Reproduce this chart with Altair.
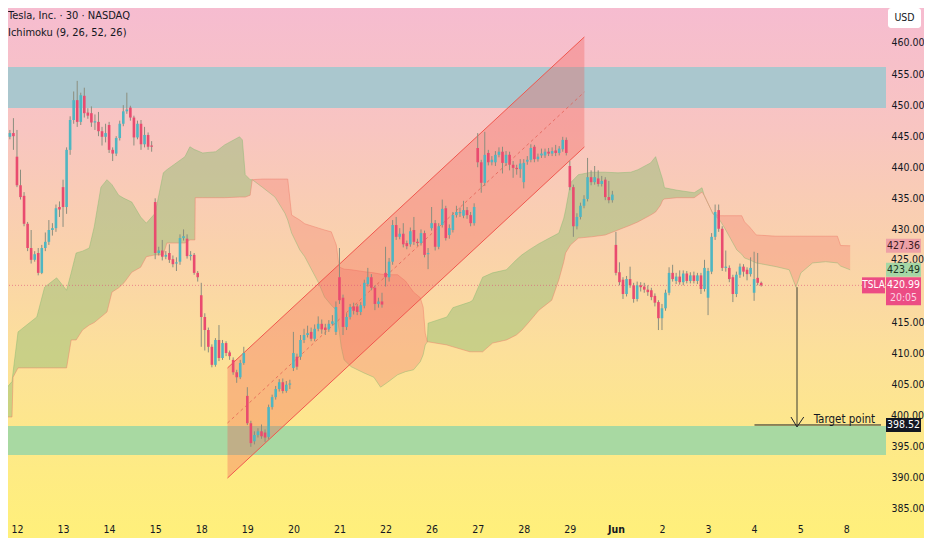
import numpy as np
import pandas as pd
import altair as alt

W, H = 878, 508
FONT = "Liberation Sans Narrow, DejaVu Sans Condensed, Roboto Condensed, Roboto, sans-serif"
INK = "#131722"
UP, DOWN, WICK = "#4FB6C2", "#E94B6F", "#8B8E7E"

# trading days on the time axis, 13 half-hour bars per day
day_labels = ["12", "13", "14", "15", "18", "19", "20", "21", "22", "26",
              "27", "28", "29", "Jun", "2", "3", "4", "5", "8"]

# 30 min candles: 3 bars of the previous session, 16 full days, 3 bars of the last day
opens = [
    447.1, 444.9, 445.5,
    441.7, 437.1, 435.4, 430.9, 427.0, 425.1, 426.2, 423.0, 427.0, 428.0, 429.9, 430.2, 433.6,
    436.8, 433.6, 442.8, 447.6, 450.8, 447.3, 451.5, 448.8, 448.7, 447.2, 447.3, 445.8, 444.9,
    446.8, 442.8, 442.2, 444.7, 447.0, 449.0, 449.6, 448.0, 444.8, 447.0, 443.7, 445.2, 443.5,
    434.4, 426.2, 426.6, 425.6, 426.2, 425.2, 424.5, 424.8, 428.6, 428.5, 425.7, 425.9, 423.0,
    419.4, 415.9, 413.8, 411.1, 408.2, 412.2, 409.3, 411.7, 410.2, 409.0, 407.0, 406.2, 408.5,
    403.2, 398.8, 395.9, 396.9, 397.5, 397.3, 396.6, 401.4, 403.0, 404.3, 405.4, 404.0, 405.0,
    407.7, 409.5, 409.5, 412.2, 413.0, 413.5, 412.4, 414.0, 414.8, 414.2, 413.9, 414.8, 413.5,
    422.3, 419.0, 414.3, 415.9, 417.6, 417.6, 416.7, 417.7, 421.2, 422.3, 420.6, 418.0, 418.4,
    423.0, 422.3, 424.8, 430.7, 428.8, 429.3, 427.8, 427.6, 429.9, 428.0, 427.8, 429.4, 426.0,
    430.2, 431.0, 427.2, 430.7, 433.4, 429.1, 429.9, 432.3, 432.6, 432.2, 433.1, 432.3, 431.0,
    443.1, 440.8, 437.5, 442.3, 440.8, 440.8, 442.0, 442.5, 440.7, 442.0, 440.4, 439.9, 439.7,
    437.6, 440.9, 441.2, 443.3, 441.3, 441.9, 441.9, 442.5, 442.2, 442.7, 442.3, 442.9, 444.4,
    440.2, 436.8, 430.5, 432.0, 433.8, 434.9, 438.4, 437.6, 438.2, 437.3, 438.0, 435.2, 434.7,
    427.5, 423.1, 421.9, 419.6, 422.0, 421.0, 418.8, 421.0, 420.8, 420.3, 420.2, 419.3, 418.3,
    415.7, 417.3, 419.8, 423.0, 421.7, 422.4, 421.5, 422.9, 421.7, 422.6, 421.7, 422.6, 420.4,
    419.0, 423.2, 428.8, 433.1, 430.1, 423.8, 423.8, 422.3, 419.6, 422.7, 424.0, 423.5, 422.8,
    419.8, 422.2, 421.4,
]
highs = [
    447.9, 446.0, 447.9,
    446.0, 439.6, 436.0, 431.2, 429.9, 426.5, 427.0, 427.5, 429.5, 431.5, 431.0, 434.0, 434.5,
    438.0, 443.2, 448.2, 452.2, 453.9, 452.0, 452.8, 449.5, 449.8, 448.5, 448.9, 446.5, 447.0,
    447.3, 443.2, 445.0, 447.5, 450.0, 452.0, 449.9, 448.3, 447.5, 447.6, 446.5, 445.6, 444.2,
    435.0, 427.2, 428.3, 426.5, 427.6, 425.8, 425.5, 429.2, 430.0, 429.2, 426.5, 426.2, 423.3,
    421.4, 416.5, 414.2, 411.5, 412.5, 414.6, 412.2, 412.0, 410.5, 409.4, 407.4, 409.0, 411.1,
    404.6, 399.2, 397.5, 398.0, 398.6, 397.8, 401.8, 403.4, 404.8, 405.9, 406.0, 405.6, 405.8,
    413.5, 410.0, 413.0, 414.0, 414.5, 414.2, 414.7, 416.0, 415.5, 414.8, 415.4, 416.2, 418.4,
    427.0, 419.5, 416.5, 418.0, 418.2, 418.0, 418.3, 421.9, 423.8, 422.8, 421.0, 419.0, 419.8,
    427.2, 425.4, 431.5, 432.0, 430.2, 431.0, 428.2, 430.3, 432.0, 428.5, 430.0, 429.8, 427.0,
    433.6, 431.5, 431.0, 434.8, 433.8, 430.8, 432.8, 433.8, 433.5, 434.6, 433.6, 432.8, 434.2,
    445.5, 441.2, 445.7, 442.8, 441.8, 442.6, 443.2, 443.3, 442.6, 442.5, 441.0, 440.4, 441.3,
    441.3, 441.8, 443.7, 443.6, 442.2, 443.0, 443.0, 443.1, 443.2, 443.6, 443.4, 444.9, 444.8,
    441.0, 437.2, 432.6, 434.3, 435.5, 441.5, 439.5, 440.2, 439.5, 438.6, 438.4, 437.8, 436.2,
    429.6, 424.7, 422.3, 422.5, 424.0, 421.4, 421.6, 421.5, 421.4, 421.0, 420.6, 419.7, 418.6,
    418.0, 420.3, 423.9, 424.3, 423.0, 423.4, 423.4, 423.3, 423.1, 423.2, 423.0, 423.0, 425.1,
    423.8, 429.4, 434.0, 434.0, 430.5, 426.6, 424.2, 422.7, 423.2, 424.5, 424.4, 423.9, 425.5,
    426.4, 426.2, 421.6,
]
lows = [
    443.5, 444.5, 442.8,
    436.8, 434.8, 430.5, 426.5, 424.5, 424.8, 422.6, 422.8, 426.5, 427.5, 429.0, 429.6, 432.0,
    430.4, 432.5, 442.0, 447.0, 446.5, 446.8, 448.0, 447.8, 446.5, 446.0, 445.0, 443.5, 444.0,
    442.3, 441.0, 441.8, 444.3, 446.6, 448.6, 447.5, 443.5, 444.5, 442.8, 443.2, 442.8, 442.5,
    425.2, 425.8, 425.0, 425.2, 424.6, 423.9, 423.3, 424.3, 428.2, 425.3, 425.0, 422.7, 421.6,
    411.1, 410.5, 410.2, 407.8, 407.9, 408.8, 409.0, 409.6, 409.0, 406.6, 405.3, 405.9, 408.2,
    398.5, 395.0, 395.4, 396.5, 396.3, 395.8, 396.2, 401.0, 402.6, 403.9, 403.6, 403.7, 404.3,
    407.2, 407.4, 409.0, 411.7, 412.6, 412.0, 412.0, 413.6, 413.2, 413.0, 413.5, 414.5, 413.0,
    418.0, 413.0, 413.8, 415.5, 416.3, 416.2, 416.2, 417.3, 420.8, 420.2, 417.0, 417.4, 417.4,
    420.8, 421.6, 424.3, 428.3, 428.4, 427.1, 426.8, 427.2, 427.5, 427.3, 427.4, 425.5, 423.6,
    429.8, 426.6, 426.8, 430.3, 428.2, 428.5, 429.5, 431.9, 432.0, 431.8, 431.7, 430.5, 430.6,
    440.0, 435.9, 437.0, 440.3, 440.3, 440.2, 441.6, 439.0, 440.2, 439.5, 438.3, 438.8, 438.3,
    436.6, 440.4, 440.8, 440.8, 440.9, 441.5, 441.5, 441.8, 441.8, 441.8, 441.9, 442.5, 441.9,
    436.3, 428.8, 430.0, 431.6, 433.4, 434.5, 437.1, 437.2, 436.9, 436.9, 434.7, 434.2, 434.3,
    422.6, 421.0, 418.8, 419.2, 420.6, 418.2, 418.4, 420.0, 419.8, 419.3, 418.6, 417.6, 413.8,
    413.8, 416.9, 419.4, 421.6, 421.2, 421.1, 421.0, 421.3, 421.3, 421.3, 421.2, 419.6, 420.0,
    416.2, 422.8, 428.3, 429.6, 423.3, 423.2, 421.5, 418.3, 419.1, 422.2, 422.4, 421.8, 422.4,
    418.5, 421.0, 420.8,
]
closes = [
    444.9, 445.5, 445.0,
    437.1, 435.2, 430.9, 427.0, 425.1, 426.0, 423.0, 427.0, 428.0, 429.9, 430.2, 433.4, 433.2,
    433.6, 442.8, 447.6, 450.8, 447.3, 451.6, 448.7, 448.3, 447.2, 447.4, 445.8, 444.9, 445.5,
    442.8, 442.2, 444.7, 447.0, 449.0, 449.3, 448.0, 444.8, 447.0, 443.7, 445.2, 443.3, 443.3,
    426.2, 426.6, 425.6, 425.9, 425.1, 424.4, 424.7, 428.6, 428.9, 425.7, 425.9, 423.0, 422.3,
    415.9, 413.8, 411.1, 408.2, 412.2, 409.3, 411.7, 410.1, 409.6, 407.0, 406.2, 408.5, 410.1,
    398.8, 395.6, 396.9, 397.5, 396.7, 396.5, 401.4, 403.0, 404.3, 405.4, 404.0, 405.0, 405.2,
    410.1, 407.9, 412.2, 413.0, 413.3, 412.4, 414.0, 414.8, 413.9, 413.8, 414.8, 415.2, 417.5,
    418.6, 414.3, 415.9, 417.5, 416.9, 416.7, 417.8, 421.4, 422.3, 420.6, 418.0, 418.4, 417.9,
    422.3, 424.8, 430.7, 428.8, 429.3, 427.6, 427.3, 429.7, 428.0, 427.8, 429.4, 425.9, 426.2,
    431.0, 427.2, 430.5, 433.3, 428.6, 430.2, 432.3, 432.8, 432.8, 433.1, 432.3, 431.0, 433.6,
    440.8, 437.5, 442.0, 440.8, 441.2, 442.0, 442.5, 440.7, 442.0, 440.4, 439.9, 439.7, 440.6,
    440.7, 441.2, 443.1, 441.3, 441.7, 442.2, 442.5, 442.2, 442.6, 442.3, 443.0, 444.4, 442.3,
    436.8, 430.5, 432.0, 433.8, 434.9, 438.4, 437.6, 438.4, 437.3, 437.8, 435.2, 434.7, 435.6,
    423.0, 421.5, 419.6, 422.0, 421.0, 418.8, 421.0, 420.7, 420.3, 419.9, 419.1, 418.2, 415.7,
    417.3, 419.8, 423.0, 422.0, 422.4, 421.5, 422.9, 421.7, 422.6, 421.7, 422.6, 420.4, 423.8,
    423.3, 428.8, 432.8, 430.1, 423.8, 424.0, 422.0, 419.6, 422.7, 424.0, 423.2, 422.8, 423.8,
    422.0, 421.4, 420.99,
]
bars = list(range(-3, 211))

# Ichimoku leading spans (already shifted 26 bars ahead), read at the cloud's corners
cloud_bar = [-3.35, -1.4, -1.1, 0.3, 5.6, 7.8, 11.2, 14.0, 15.3, 16.7, 18.5, 20.4, 21.8, 23.7,
             25.4, 26.8, 28.7, 30.2, 32.4, 34.9, 36.5, 39.0, 41.3, 42.3, 47.4, 48.8, 50.2, 50.3,
             52.4, 56.1, 58.6, 62.8, 63.6, 64.4, 65.8,
             66.4, 69.2, 72.8, 75.6, 76.4, 77.5, 79.8, 81.2, 85.1, 86.8, 88.7, 90.1, 90.9, 91.5,
             92.3, 94.3, 97.9, 100.7, 102.6, 104.6, 107.4, 109.6, 111.9, 113.8, 114.6, 115.2, 115.8,
             116.0, 121.3, 123.0, 127.8, 128.6, 131.4, 134.2, 138.1, 140.9, 142.5, 144.5, 147.3,
             150.9, 152.9, 154.3, 154.8, 156.2, 158.4, 162.1, 166.0, 169.6, 173.2, 175.2, 178.8,
             180.2, 181.6, 182.2, 182.7, 186.3, 191.1, 193.3, 193.9,
             196.4, 198.3, 199.7, 203.1, 204.5, 205.3, 206.7, 208.6, 214.2, 217.9, 219.8, 221.2,
             224.5, 228.2, 231.5, 232.4, 235.1]
span_a = [404.2, 405.5, 407.0, 413.5, 415.9, 420.7, 422.2, 420.2, 423.0, 426.2, 426.5, 427.0, 430.4, 436.8,
          438.0, 437.2, 435.5, 435.0, 434.4, 432.0, 431.0, 432.6, 439.1, 439.6, 441.7, 443.3, 442.8, 442.8,
          442.3, 442.5, 443.6, 444.9, 444.4, 438.8, 438.0,
          438.0, 436.8, 435.2, 432.6, 431.5, 429.4, 426.7, 425.6, 421.4, 419.1, 417.8, 417.0, 413.8, 411.1,
          409.0, 407.9, 406.9, 406.2, 404.6, 405.4, 406.6, 407.1, 407.4, 408.7, 409.8, 411.4, 411.9,
          414.9, 415.9, 417.4, 418.3, 418.6, 422.3, 423.0, 423.5, 425.1, 425.9, 426.7, 427.7,
          428.8, 429.4, 431.8, 433.1, 437.5, 438.8, 439.2, 439.2, 439.1, 439.2, 439.6, 440.7,
          441.7, 439.1, 438.0, 436.7, 436.3, 435.9, 436.7, 435.5,
          432.5, 431.5, 430.2, 426.7, 426.0, 425.4, 425.1, 424.6, 424.0, 423.5, 420.7, 423.0,
          424.6, 424.8, 424.6, 424.1, 423.49]
span_b = [399.8, 399.8, 406.2, 407.7, 407.7, 407.7, 407.7, 407.7, 412.2, 412.2, 413.8, 414.6, 415.0, 415.9,
          416.7, 419.9, 420.6, 421.4, 423.1, 423.9, 425.6, 425.9, 425.9, 427.8, 427.8, 428.3, 428.3, 435.1,
          435.1, 435.1, 435.1, 435.2, 435.2, 435.2, 435.5,
          438.0, 438.1, 438.1, 438.1, 438.1, 432.3, 431.5, 430.9, 430.2, 429.9, 429.6, 427.5, 424.0, 423.8,
          423.6, 423.5, 423.2, 423.0, 422.8, 422.7, 422.7, 421.7, 419.9, 419.0, 417.5, 413.3, 411.9,
          411.9, 411.4, 411.1, 410.3, 410.3, 410.3, 411.7, 412.2, 413.0, 413.8, 415.1, 417.0,
          418.6, 421.9, 424.8, 426.2, 427.5, 428.6, 428.8, 429.1, 429.9, 430.7, 431.2, 432.3,
          432.8, 433.9, 434.7, 434.9, 435.1, 435.1, 436.0, 435.5,
          432.5, 432.2, 432.2, 432.2, 432.2, 431.2, 430.4, 429.1, 428.9, 428.9, 428.9, 428.9,
          428.9, 428.9, 428.9, 427.4, 427.36]

# rising channel drawing: left and right ends
chan_bar = [59.4, 160.1]
chan_top = [407.69, 460.97]
chan_bot = [389.98, 443.26]
chan_mid = [398.83, 452.11]

# horizontal zones
band_top = [456.14, 398.36]
band_bot = [449.54, 393.69]
band_fill = ["#AAC7CE", "#A8D9A2"]

last_price = 420.99
target_price = 398.52
arrow_bar, arrow_from = 220.1, 420.7

y_ticks = [385, 390, 395, 405, 410, 415, 430, 435, 440, 445, 450, 455, 460]

xs = alt.Scale(domain=[-1.12, 243.8], nice=False, zero=False)
ys = alt.Scale(domain=[383.87, 465.63], nice=False, zero=False)

# month change label is bold
jun_bold = {"condition": {"test": "datum.value === 169", "value": "bold"}, "value": "normal"}
x_axis = alt.Axis(
    values=list(range(0, 235, 13)),
    labelExpr="[" + ",".join("'%s'" % d for d in day_labels) + "][round(datum.value / 13)]",
    ticks=False, domain=False, grid=False, labelPadding=8, labelFontSize=10.5,
    labelColor=INK, labelFont=FONT, labelFontWeight=jun_bold, zindex=1, title=None)
y_axis = alt.Axis(
    orient="right", values=y_ticks, format=".2f", ticks=False, domain=False, grid=False,
    labelPadding=5, labelFontSize=10.5, labelColor=INK, labelFont=FONT, zindex=1, title=None)


def X(field):
    return alt.X(field, scale=xs, axis=x_axis)


def Y(field):
    return alt.Y(field, scale=ys, axis=y_axis)


candles = pd.DataFrame({"bar": bars, "open": opens, "high": highs, "low": lows, "close": closes})
candles["dir"] = np.where(candles["close"] >= candles["open"], "up", "down")
candles["b_lo"] = candles[["open", "close"]].min(axis=1)
candles["b_hi"] = np.maximum(candles[["open", "close"]].max(axis=1), candles["b_lo"] + 0.16)

cloud = pd.DataFrame({"bar": cloud_bar, "a": span_a, "b": span_b})
cloud["g_top"] = np.where(cloud["a"] >= cloud["b"], cloud["a"], cloud["b"])
cloud["r_bot"] = np.where(cloud["b"] >= cloud["a"], cloud["a"], cloud["b"])

bg = alt.Chart(pd.DataFrame({"k": [0]})).mark_rect(
    color=alt.Gradient(
        gradient="linear", x1=0, x2=0, y1=0, y2=1,
        stops=[alt.GradientStop(color="#F6BCD0", offset=0),
               alt.GradientStop(color="#F8C5C1", offset=0.23),
               alt.GradientStop(color="#FAD2AB", offset=0.46),
               alt.GradientStop(color="#FCE09A", offset=0.65),
               alt.GradientStop(color="#FEEB84", offset=0.87),
               alt.GradientStop(color="#FFF07A", offset=1)])
).encode(x=alt.value(0), x2=alt.value(W + 38), y=alt.value(0), y2=alt.value(H + 22))

bands = alt.Chart(pd.DataFrame({"top": band_top, "bot": band_bot, "fill": band_fill})).mark_rect().encode(
    x=alt.value(0), x2=alt.value(W),
    y=Y("top:Q"), y2="bot:Q",
    color=alt.Color("fill:N", scale=None))

green_cloud = alt.Chart(cloud).mark_area(color="#82B96E", opacity=0.42, clip=True).encode(
    x=X("bar:Q"), y=Y("g_top:Q"), y2="b:Q")
red_cloud = alt.Chart(cloud).mark_area(color="#F2786E", opacity=0.32, clip=True).encode(
    x=X("bar:Q"), y=Y("r_bot:Q"), y2="b:Q")
line_a = alt.Chart(cloud).mark_line(color="#86B870", strokeWidth=1, opacity=0.45, clip=True).encode(
    x=X("bar:Q"), y=Y("a:Q"))
line_b = alt.Chart(cloud).mark_line(color="#EE7A68", strokeWidth=1, opacity=0.45, clip=True).encode(
    x=X("bar:Q"), y=Y("b:Q"))

chan = pd.DataFrame({"bar": chan_bar, "top": chan_top, "bot": chan_bot, "mid": chan_mid})
chan_fill = alt.Chart(chan).mark_area(color="#F25C54", opacity=0.33).encode(
    x=X("bar:Q"), y=Y("top:Q"), y2="bot:Q")
chan_top_line = alt.Chart(chan).mark_line(color="#F0574E", strokeWidth=1).encode(
    x=X("bar:Q"), y=Y("top:Q"))
chan_bot_line = alt.Chart(chan).mark_line(color="#F0574E", strokeWidth=1).encode(
    x=X("bar:Q"), y=Y("bot:Q"))
chan_mid_line = alt.Chart(chan).mark_line(color="#E0584E", strokeWidth=1, strokeDash=[3, 3], opacity=0.7).encode(
    x=X("bar:Q"), y=Y("mid:Q"))

price_line = alt.Chart(pd.DataFrame({"p": [last_price]})).mark_rule(
    color="#E0507A", strokeWidth=1, strokeDash=[1, 2], opacity=0.6).encode(y=Y("p:Q"))

wicks = alt.Chart(candles).mark_rule(color=WICK, strokeWidth=1, clip=True).encode(
    x=X("bar:Q"), y=Y("low:Q"), y2="high:Q")
bodies = alt.Chart(candles).mark_bar(size=2.6, clip=True).encode(
    x=X("bar:Q"), y=Y("b_lo:Q"), y2="b_hi:Q",
    color=alt.Color("dir:N", scale=alt.Scale(domain=["up", "down"], range=[UP, DOWN]), legend=None))

# target annotation
target_line = alt.Chart(pd.DataFrame({"x": [208.1], "x2": [243.8], "p": [target_price]})).mark_rule(
    color="#1E2229", strokeWidth=1).encode(x=X("x:Q"), x2="x2:Q", y=Y("p:Q"))
arrow_stem = alt.Chart(pd.DataFrame({"x": [arrow_bar], "p1": [arrow_from], "p2": [398.3]})).mark_rule(
    color="#3A3C30", strokeWidth=1).encode(x=X("x:Q"), y=Y("p1:Q"), y2="p2:Q")
arrow_head = alt.Chart(pd.DataFrame({"x": [218.4, 220.1, 222.0], "p": [399.8, 398.2, 399.8], "o": [0, 1, 2]})).mark_line(
    color="#1E2229", strokeWidth=1).encode(x=X("x:Q"), y=Y("p:Q"), order="o:O")
target_text = alt.Chart(pd.DataFrame({"x": [224.8], "p": [398.85], "t": ["Target point"]})).mark_text(
    align="left", baseline="alphabetic", fontSize=11.5, font=FONT, color="#131722").encode(
    x=X("x:Q"), y=Y("p:Q"), text="t:N")

header1 = alt.Chart(pd.DataFrame({"t": ["Tesla, Inc. · 30 · NASDAQ"]})).mark_text(
    align="left", baseline="alphabetic", fontSize=11, font=FONT, color=INK).encode(
    x=alt.value(0), y=alt.value(11), text="t:N")
header2 = alt.Chart(pd.DataFrame({"t": ["Ichimoku (9, 26, 52, 26)"]})).mark_text(
    align="left", baseline="alphabetic", fontSize=11, font=FONT, color=INK).encode(
    x=alt.value(0), y=alt.value(28), text="t:N")

# partly hidden axis labels behind the price tags
hidden_ticks = alt.Chart(pd.DataFrame({"p": [425.0, 400.0], "t": ["425.00", "400.00"]})).mark_text(
    align="left", baseline="middle", fontSize=10.5, font=FONT, color=INK).encode(
    x=alt.value(W + 5), y=Y("p:Q"), text="t:N")

tag_df = pd.DataFrame({
    "top": [428.49, 424.62, 422.28, 399.65],
    "bot": [426.23, 422.36, 417.77, 397.39],
    "fill": ["#EEA0A6", "#A6D7A6", "#EC4C84", "#131722"],
})
tags = alt.Chart(tag_df).mark_rect().encode(
    x=alt.value(W), x2=alt.value(W + 35),
    y=Y("top:Q"), y2="bot:Q",
    color=alt.Color("fill:N", scale=None))
tsla_tag = alt.Chart(pd.DataFrame({"top": [422.28], "bot": [419.70]})).mark_rect(color="#EC4C84").encode(
    x=alt.value(W - 24), x2=alt.value(W - 1), y=Y("top:Q"), y2="bot:Q")
tag_text = alt.Chart(pd.DataFrame({
    "p": [427.36, 423.49, 420.99, 418.9, 398.52],
    "t": ["427.36", "423.49", "420.99", "20:05", "398.52"],
    "c": ["#3A1A20", "#1B3320", "#FFFFFF", "#FBD3E2", "#FFFFFF"],
})).mark_text(align="center", baseline="middle", fontSize=10.5, font=FONT).encode(
    x=alt.value(W + 17.5), y=Y("p:Q"), text="t:N",
    color=alt.Color("c:N", scale=None))
tsla_text = alt.Chart(pd.DataFrame({"p": [420.99], "t": ["TSLA"]})).mark_text(
    align="center", baseline="middle", fontSize=10, font=FONT, color="#FFFFFF").encode(
    x=alt.value(W - 12.5), y=Y("p:Q"), text="t:N")
usd_box = alt.Chart(pd.DataFrame({"k": [0]})).mark_rect(color="#FFFFFF", cornerRadius=3).encode(
    x=alt.value(W + 2), x2=alt.value(W + 35), y=alt.value(0), y2=alt.value(20))
usd_text = alt.Chart(pd.DataFrame({"t": ["USD"]})).mark_text(
    align="center", baseline="middle", fontSize=10.5, font=FONT, color=INK).encode(
    x=alt.value(W + 18.5), y=alt.value(10), text="t:N")

chart = alt.layer(
    bg, bands, red_cloud, green_cloud, line_a, line_b,
    chan_fill, chan_top_line, chan_bot_line, chan_mid_line,
    price_line, wicks, bodies,
    target_line, arrow_stem, arrow_head, target_text, header1, header2,
    hidden_ticks, tags, tsla_tag, tag_text, tsla_text, usd_box, usd_text,
).properties(
    width=W, height=H,
    autosize=alt.AutoSizeParams(type="none"),
    padding={"left": 0, "top": 0, "right": 38, "bottom": 22},
).configure_view(stroke=None)

chart.save("out.html", embed_options={"renderer": "svg", "actions": False})
